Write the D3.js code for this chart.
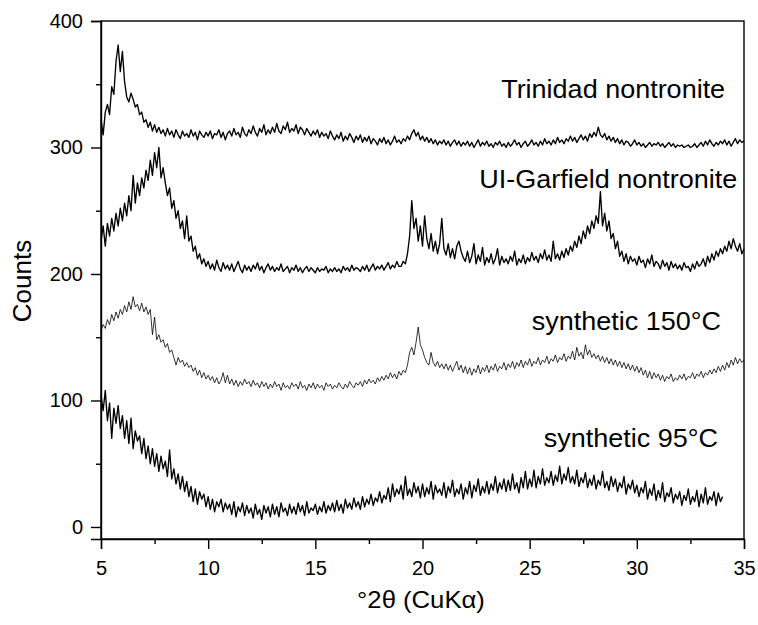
<!DOCTYPE html>
<html>
<head>
<meta charset="utf-8">
<script src="https://cdn.jsdelivr.net/npm/d3@7"></script>
<style>
  body { margin: 0; background: #fff; }
  text { font-family: "Liberation Sans", Arial, Helvetica, sans-serif; fill: #000; }
</style>
</head>
<body>
<div id="chart"></div>
<script>
// 2theta grid of the scans (degrees)
const thetaStart = 5;
const thetaStep = 0.1;

// Counts, one value per 0.1 deg from 5 deg
const trinidad = [
  322, 310, 328, 334, 326, 348, 342, 368, 381, 360,
  376, 352, 340, 336, 343, 338, 332, 334, 326, 328,
  320, 322, 316, 320, 313, 318, 312, 316, 311, 314,
  309, 315, 310, 313, 308, 314, 310, 307, 313, 309,
  311, 308, 314, 309, 312, 306, 313, 310, 308, 312,
  309, 313, 307, 311, 310, 314, 308, 312, 306, 311,
  313, 309, 315, 310, 312, 308, 316, 311, 309, 314,
  311, 317, 312, 309, 315, 312, 318, 310, 314, 311,
  316, 312, 319, 313, 311, 317, 314, 320, 312, 315,
  313, 318, 311, 316, 314, 310, 315, 312, 309, 313,
  310, 314, 308, 312, 309, 311, 307, 313, 309, 306,
  310, 307, 312, 305, 309, 306, 311, 308, 304, 309,
  306, 310, 304, 308, 305, 309, 303, 307, 305, 302,
  307, 304, 308, 303, 306, 302, 305, 309, 304, 306,
  303, 307, 305, 309, 306, 311, 314, 309, 312, 306,
  309, 305, 308, 304, 307, 303, 306, 302, 305, 303,
  306, 302, 305, 301, 304, 306, 302, 305, 301, 304,
  302, 305, 301, 304, 300, 303, 306, 301, 304, 302,
  305, 301, 303, 300, 304, 302, 305, 301, 303, 300,
  304, 301, 303, 306, 302, 304, 300, 303, 305, 301,
  303, 306, 302, 304, 301, 305, 302, 307, 303, 305,
  302, 306, 303, 308, 304, 306, 303, 307, 305, 309,
  305, 308, 304, 307, 310, 306, 309, 305, 311, 308,
  312, 309, 316, 310, 308, 311, 306, 309, 305, 308,
  304, 307, 303, 306, 302, 305, 304, 301, 303, 306,
  302, 304, 301, 303, 300, 302, 304, 301, 303, 302,
  304, 301, 303, 300, 302, 304, 301, 303, 300, 302,
  301, 302, 300, 301, 302, 300, 301, 303, 300, 302,
  304, 301, 305, 302, 306, 303, 301, 304, 302, 305,
  303, 306, 302, 305, 301, 304, 307, 303, 306, 304,
  305
];

const garfield = [
  226, 238, 222, 240, 230, 244, 234, 248, 238, 252,
  242, 256, 246, 262, 250, 278, 256, 272, 262, 276,
  268, 282, 274, 290, 278, 296, 284, 300, 276, 284,
  272, 262, 268, 252, 258, 244, 250, 236, 242, 228,
  246, 226, 230, 218, 222, 212, 216, 208, 212, 206,
  210, 204, 208, 203, 211, 205, 202, 209, 204, 207,
  203, 208, 202, 206, 210, 204, 201, 207, 203, 206,
  202, 207, 204, 209, 203, 206, 201, 205, 208, 203,
  206, 202, 205, 203, 208, 202, 204, 206, 201, 205,
  203, 207, 202, 205, 201, 204, 206, 202, 205, 203,
  201, 205, 202, 204, 203, 206, 201, 204, 202, 205,
  202, 204, 201, 206, 203, 205, 202, 207, 203, 205,
  204, 202, 206, 203, 207, 202, 205, 208, 203, 206,
  204, 207, 203, 206, 209, 204, 207, 205, 210, 206,
  206, 210, 208, 216, 230, 258, 236, 244, 226, 238,
  222, 246, 228, 220, 232, 218, 226, 216, 224, 244,
  220, 215, 224, 213, 220, 212, 222, 226, 218, 213,
  210, 218, 209, 214, 224, 208, 215, 210, 221, 207,
  213, 209, 216, 208, 212, 220, 207, 214, 209, 212,
  208, 214, 210, 218, 207, 212, 209, 215, 208, 213,
  210, 217, 211, 214, 209, 216, 212, 219, 211, 215,
  210, 226, 212, 216, 211, 218, 213, 220, 215, 222,
  218, 226, 221, 230, 224, 234, 228, 238, 232, 242,
  236, 246, 240, 265, 238, 248, 234, 242, 228, 232,
  220, 226, 214, 218, 210, 216, 208, 214, 210, 212,
  207, 214, 209, 211, 205, 212, 208, 215, 206, 210,
  208, 204, 211, 206, 209, 203, 210, 205, 208, 204,
  207, 203, 209, 205, 206, 202, 208, 204, 210, 206,
  208, 212, 206, 214, 209, 216, 211, 218, 214, 220,
  216, 222, 218, 226, 220, 228, 222, 218, 224, 216,
  220
];

const synth150 = [
  155, 160, 157, 164, 160, 168, 163, 170, 165, 172,
  168, 175, 170, 178, 172, 182, 174, 176, 171, 177,
  170, 174, 168, 172, 152, 166, 148, 152, 146, 148,
  142, 145, 138, 140, 134, 128, 134, 130, 132, 127,
  130, 126, 128, 123, 126, 120, 124, 118, 122, 117,
  120, 116, 119, 114, 118, 113, 116, 122, 114, 120,
  113, 117, 112, 116, 111, 115, 112, 117, 113, 115,
  111, 116, 112, 114, 110, 115, 111, 114, 109, 113,
  110, 115, 111, 113, 108, 114, 110, 112, 109, 114,
  111, 113, 109, 115, 110, 112, 108, 113, 110, 114,
  109, 113, 110, 112, 108, 114, 111, 113, 109, 112,
  110, 114, 111, 109, 113, 110, 115, 112, 110, 114,
  112, 115, 111, 116, 113, 117, 114, 116, 113, 118,
  115, 119, 116, 120, 117, 122, 118, 121, 117, 123,
  120, 124, 122, 128, 138, 142, 136, 146, 158, 144,
  140, 134, 130, 128, 138, 130, 127, 131, 126, 129,
  125, 129, 124, 128, 123, 127, 131, 124, 128, 122,
  127, 121, 126, 120, 125, 122, 128, 121, 126, 123,
  128, 122, 127, 124, 129, 123, 127, 125, 130, 124,
  129, 126, 131, 125, 130, 127, 132, 126, 131, 128,
  133, 127, 131, 129, 134, 128, 132, 130, 135, 129,
  133, 131, 136, 130, 134, 132, 137, 131, 135, 133,
  139, 132, 142, 135, 138, 133, 144, 136, 140, 134,
  137, 133, 136, 131, 135, 130, 134, 129, 133, 128,
  132, 127, 131, 126, 130, 125, 129, 124, 128, 123,
  127, 122, 126, 120, 124, 118, 123, 117, 122, 118,
  121, 116, 120, 115, 119, 117, 121, 115, 118, 116,
  120, 117, 121, 116, 119, 118, 122, 117, 121, 119,
  123, 118, 122, 120, 124, 121, 125, 122, 127, 123,
  128, 124, 130, 126, 132, 128, 134, 129, 133, 130,
  132
];

const synth95 = [
  104, 92, 108, 84, 98, 70, 94, 82, 96, 78,
  88, 70, 84, 66, 86, 62, 76, 68, 72, 58,
  70, 54, 64, 50, 62, 48, 58, 44, 56, 46,
  52, 40, 61, 38, 46, 34, 42, 30, 40, 28,
  36, 24, 32, 20, 30, 18, 28, 22, 26, 16,
  24, 14, 22, 12, 20, 16, 22, 12, 19, 14,
  18, 10, 20, 8, 16, 12, 19, 9, 17, 11,
  15, 7, 18, 10, 14, 6, 17, 11, 16, 8,
  18, 10, 16, 8, 19, 12, 15, 9, 18, 11,
  16, 10, 19, 12, 17, 9, 20, 11, 15, 13,
  18, 10, 16, 12, 20, 11, 17, 13, 19, 12,
  21, 13, 18, 11, 22, 15, 19, 14, 23, 16,
  20, 14, 24, 16, 22, 18, 26, 17, 23, 20,
  28, 19, 25, 22, 31, 20, 34, 24, 30, 26,
  33, 22, 40, 25, 30, 24, 35, 27, 32, 23,
  34, 24, 31, 26, 36, 22, 33, 27, 30, 25,
  35, 23, 32, 27, 37, 24, 30, 26, 34, 22,
  31, 26, 36, 23, 33, 28, 38, 25, 32, 27,
  36, 26, 34, 29, 40, 27, 35, 30, 38, 28,
  37, 29, 42, 30, 35, 27, 39, 31, 44, 30,
  38, 32, 45, 31, 40, 34, 46, 33, 39, 35,
  44, 33, 41, 36, 48, 34, 42, 37, 47, 35,
  40, 34, 45, 32, 39, 35, 43, 31, 38, 33,
  41, 30, 37, 33, 44, 31, 36, 29, 40, 32,
  38, 28, 35, 31, 40, 26, 34, 30, 37, 27,
  33, 24, 31, 27, 36, 22, 30, 25, 34, 21,
  29, 23, 35, 20, 27, 24, 31, 19, 26, 22,
  28, 17, 25, 21, 30, 18, 24, 20, 29, 16,
  26, 19, 31, 18, 24, 21, 28, 17, 27, 20,
  24
];

const seriesNames = ['Trinidad nontronite', 'UI-Garfield nontronite', 'synthetic 150\u00b0C', 'synthetic 95\u00b0C'];
// where each name sits, in data units (right end of text, baseline)
const labelTheta = [34.12, 34.68, 33.93, 33.79];
const labelCounts = [339, 268, 155.7, 63.2];

const xMajor = [5, 10, 15, 20, 25, 30, 35];
const xMinor = [7.5, 12.5, 17.5, 22.5, 27.5, 32.5];
const yMajor = [0, 100, 200, 300, 400];
const yMinor = [50, 150, 250, 350];

const width = 758, height = 625;
const margin = { top: 21, right: 14, bottom: 86, left: 101 };

const x = d3.scaleLinear().domain([5, 35]).range([margin.left, width - margin.right]);
const y = d3.scaleLinear().domain([-9.5, 400]).range([height - margin.bottom, margin.top]);

const svg = d3.select('#chart').append('svg')
  .attr('width', width)
  .attr('height', height);

// plot lines
const line = d3.line()
  .x((d, i) => x(thetaStart + i * thetaStep))
  .y(d => y(d));

const allSeries = [
  { values: trinidad, w: 1.35 },
  { values: garfield, w: 1.35 },
  { values: synth150, w: 0.8 },
  { values: synth95, w: 1.35 }
];

svg.append('g')
  .selectAll('path')
  .data(allSeries)
  .enter().append('path')
  .attr('d', d => line(d.values))
  .attr('fill', 'none')
  .attr('stroke', '#000')
  .attr('stroke-width', d => d.w)
  .attr('stroke-linejoin', 'round');

// frame
svg.append('rect')
  .attr('x', margin.left)
  .attr('y', margin.top)
  .attr('width', width - margin.left - margin.right)
  .attr('height', height - margin.top - margin.bottom)
  .attr('fill', 'none')
  .attr('stroke', '#000')
  .attr('stroke-width', 1.4);

// x axis
const xAxis = svg.append('g')
  .attr('transform', `translate(0,${height - margin.bottom})`)
  .call(d3.axisBottom(x).tickValues(xMajor).tickSize(10).tickPadding(12).tickFormat(d3.format('d')));
xAxis.append('g')
  .call(d3.axisBottom(x).tickValues(xMinor).tickSize(5).tickFormat(''))
  .select('.domain').remove();

// y axis
const yAxis = svg.append('g')
  .attr('transform', `translate(${margin.left},0)`)
  .call(d3.axisLeft(y).tickValues(yMajor).tickSize(10).tickPadding(8).tickFormat(d3.format('d')));
yAxis.append('g')
  .call(d3.axisLeft(y).tickValues(yMinor).tickSize(5).tickFormat(''))
  .select('.domain').remove();

svg.selectAll('.domain').attr('stroke-width', 1.4);
svg.selectAll('.tick line').attr('stroke-width', 1.4);
svg.selectAll('.tick text')
  .attr('font-size', 20)
  .attr('font-family', '"Liberation Sans", Arial, Helvetica, sans-serif')
  .attr('fill', '#000');

// series names, slightly stretched sideways like the original
svg.append('g')
  .selectAll('text')
  .data(seriesNames)
  .enter().append('text')
  .attr('transform', (d, i) => `translate(${x(labelTheta[i])},${y(labelCounts[i])}) scale(1.08,1)`)
  .attr('text-anchor', 'end')
  .attr('font-size', 25)
  .text(d => d);

// axis titles
svg.append('text')
  .attr('transform', 'translate(421,608) scale(1.07,1)')
  .attr('text-anchor', 'middle')
  .attr('font-size', 24)
  .text('\u00b02\u03b8 (CuK\u03b1)');

svg.append('text')
  .attr('transform', 'translate(31,281) rotate(-90)')
  .attr('text-anchor', 'middle')
  .attr('font-size', 26)
  .text('Counts');
</script>
</body>
</html>
